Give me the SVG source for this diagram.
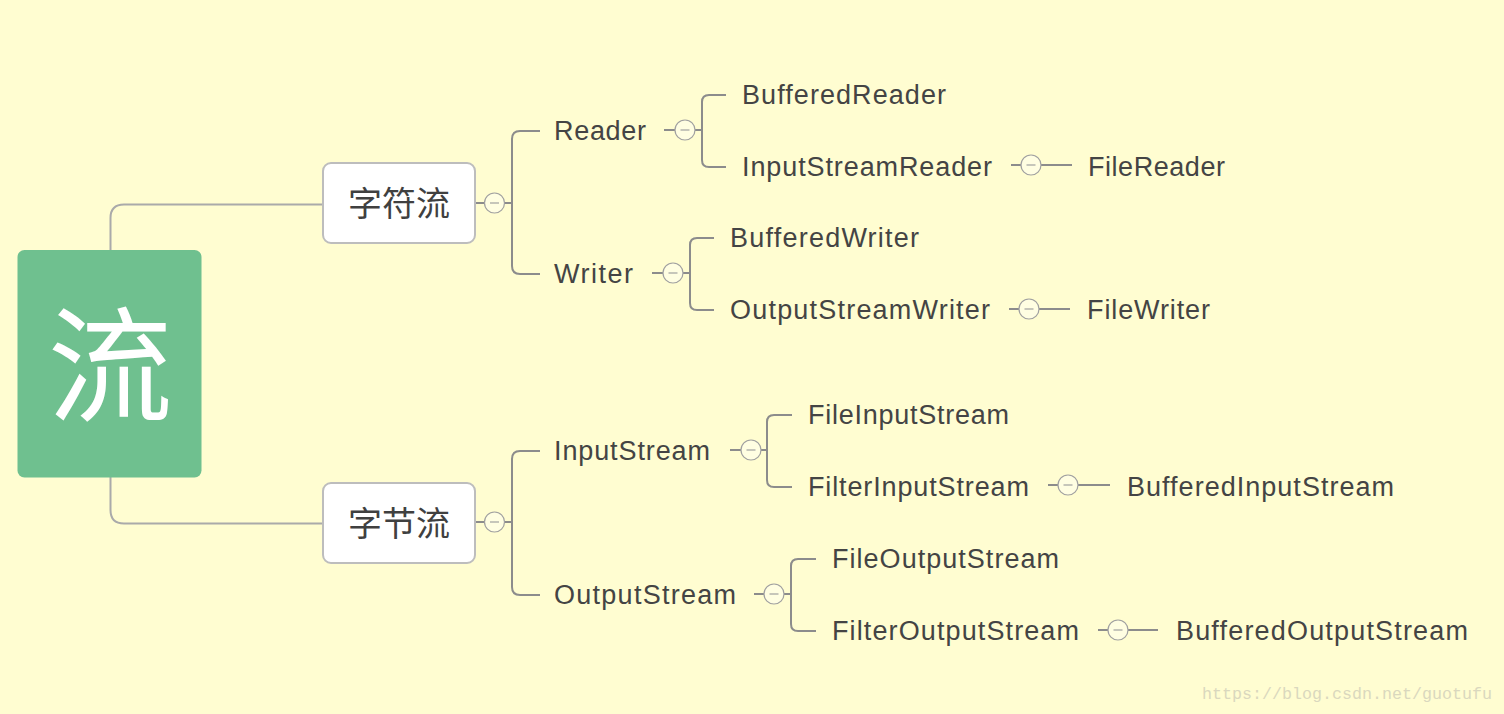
<svg xmlns="http://www.w3.org/2000/svg" width="1504" height="714" viewBox="0 0 1504 714">
<style>
.bg{fill:#FFFDD1}
.root{fill:#6FC08F}
.rootText{font-family:"Noto Sans CJK SC","Liberation Sans",sans-serif;font-size:125px;fill:#ffffff;text-anchor:middle}
.box{fill:#ffffff;stroke:#BDBDBD;stroke-width:2}
.cjk{font-family:"Noto Sans CJK SC","Liberation Sans",sans-serif;font-size:34px;fill:#404040;text-anchor:middle}
.lbl{font-family:"Liberation Sans",Arial,sans-serif;font-size:27px;fill:#444444}
.c1{fill:none;stroke:#AAAAAA;stroke-width:2}
.c2{fill:none;stroke:#8C8C8C;stroke-width:2}
.btn{fill:#FFFEE2;stroke:#A0A0A0;stroke-width:1.2}
.dash{stroke:#A0A0A0;stroke-width:1.2}
.wm{font-family:"Liberation Mono",monospace;font-size:17px;fill:#DAD8BE}
</style>
<rect class="bg" x="0" y="0" width="1504" height="714"/>
<g id="connectors">
  <path class="c1" d="M110.5,250 V218 Q110.5,204.5 124,204.5 H323"/>
  <path class="c1" d="M110.5,477 V510 Q110.5,523.5 124,523.5 H323"/>
  <!-- 字符流 -->
  <path class="c2" d="M476,203 H485 M504,203 H512"/>
  <path class="c2" d="M540,131 H520 Q512,131 512,139 V266 Q512,274 520,274 H540"/>
  <!-- Reader -->
  <path class="c2" d="M664,130 H675 M695,130 H702"/>
  <path class="c2" d="M726,95 H709 Q702,95 702,102 V160 Q702,167 709,167 H726"/>
  <path class="c2" d="M1011,165 H1021 M1041,165 H1072"/>
  <!-- Writer -->
  <path class="c2" d="M652,273 H663 M683,273 H690"/>
  <path class="c2" d="M714,238 H697 Q690,238 690,245 V303 Q690,310 697,310 H714"/>
  <path class="c2" d="M1009,309 H1019 M1039,309 H1070"/>
  <!-- 字节流 -->
  <path class="c2" d="M476,522 H485 M504,522 H512"/>
  <path class="c2" d="M540,451 H520 Q512,451 512,459 V587 Q512,595 520,595 H540"/>
  <!-- InputStream -->
  <path class="c2" d="M730,450 H741 M761,450 H767"/>
  <path class="c2" d="M792,415 H774 Q767,415 767,422 V480 Q767,487 774,487 H792"/>
  <path class="c2" d="M1048,485 H1058 M1078,485 H1110"/>
  <!-- OutputStream -->
  <path class="c2" d="M754,594 H764 M784,594 H791"/>
  <path class="c2" d="M816,559 H798 Q791,559 791,566 V624 Q791,631 798,631 H816"/>
  <path class="c2" d="M1098,630 H1108 M1128,630 H1158"/>
  <!-- collapse buttons -->
  <g>
    <circle class="btn" cx="494.5" cy="203" r="10"/><line class="dash" x1="490" y1="203" x2="499" y2="203"/>
    <circle class="btn" cx="685" cy="130" r="10"/><line class="dash" x1="680.5" y1="130" x2="689.5" y2="130"/>
    <circle class="btn" cx="1031" cy="165" r="10"/><line class="dash" x1="1026.5" y1="165" x2="1035.5" y2="165"/>
    <circle class="btn" cx="673" cy="273" r="10"/><line class="dash" x1="668.5" y1="273" x2="677.5" y2="273"/>
    <circle class="btn" cx="1029" cy="309" r="10"/><line class="dash" x1="1024.5" y1="309" x2="1033.5" y2="309"/>
    <circle class="btn" cx="494.5" cy="522" r="10"/><line class="dash" x1="490" y1="522" x2="499" y2="522"/>
    <circle class="btn" cx="751" cy="450" r="10"/><line class="dash" x1="746.5" y1="450" x2="755.5" y2="450"/>
    <circle class="btn" cx="1068" cy="485" r="10"/><line class="dash" x1="1063.5" y1="485" x2="1072.5" y2="485"/>
    <circle class="btn" cx="774" cy="594" r="10"/><line class="dash" x1="769.5" y1="594" x2="778.5" y2="594"/>
    <circle class="btn" cx="1118" cy="630" r="10"/><line class="dash" x1="1113.5" y1="630" x2="1122.5" y2="630"/>
  </g>
</g>
<g id="node-root">
  <rect class="root" x="17.5" y="250" width="184" height="227.5" rx="7"/>
  <text class="rootText" x="110" y="412">流</text>
</g>
<g id="node-char">
  <rect class="box" x="323" y="163" width="152" height="80" rx="8"/>
  <text class="cjk" x="399" y="216">字符流</text>
</g>
<g id="node-byte">
  <rect class="box" x="323" y="483" width="152" height="80" rx="8"/>
  <text class="cjk" x="399" y="536">字节流</text>
</g>
<g id="node-reader"><text class="lbl" x="554" y="140" textLength="92" lengthAdjust="spacing">Reader</text></g>
<g id="node-bufferedreader"><text class="lbl" x="742" y="104" textLength="204" lengthAdjust="spacing">BufferedReader</text></g>
<g id="node-inputstreamreader"><text class="lbl" x="742" y="176" textLength="250" lengthAdjust="spacing">InputStreamReader</text></g>
<g id="node-filereader"><text class="lbl" x="1088" y="176" textLength="137" lengthAdjust="spacing">FileReader</text></g>
<g id="node-writer"><text class="lbl" x="554" y="283" textLength="79" lengthAdjust="spacing">Writer</text></g>
<g id="node-bufferedwriter"><text class="lbl" x="730" y="247" textLength="189" lengthAdjust="spacing">BufferedWriter</text></g>
<g id="node-outputstreamwriter"><text class="lbl" x="730" y="319" textLength="260" lengthAdjust="spacing">OutputStreamWriter</text></g>
<g id="node-filewriter"><text class="lbl" x="1087" y="319" textLength="123" lengthAdjust="spacing">FileWriter</text></g>
<g id="node-inputstream"><text class="lbl" x="554" y="460" textLength="156" lengthAdjust="spacing">InputStream</text></g>
<g id="node-fileinputstream"><text class="lbl" x="808" y="424" textLength="201" lengthAdjust="spacing">FileInputStream</text></g>
<g id="node-filterinputstream"><text class="lbl" x="808" y="496" textLength="221" lengthAdjust="spacing">FilterInputStream</text></g>
<g id="node-bufferedinputstream"><text class="lbl" x="1127" y="496" textLength="267" lengthAdjust="spacing">BufferedInputStream</text></g>
<g id="node-outputstream"><text class="lbl" x="554" y="604" textLength="182" lengthAdjust="spacing">OutputStream</text></g>
<g id="node-fileoutputstream"><text class="lbl" x="832" y="568" textLength="227" lengthAdjust="spacing">FileOutputStream</text></g>
<g id="node-filteroutputstream"><text class="lbl" x="832" y="640" textLength="247" lengthAdjust="spacing">FilterOutputStream</text></g>
<g id="node-bufferedoutputstream"><text class="lbl" x="1176" y="640" textLength="292" lengthAdjust="spacing">BufferedOutputStream</text></g>
<text class="wm" x="1202" y="699" textLength="290" lengthAdjust="spacingAndGlyphs">https://blog.csdn.net/guotufu</text>
</svg>
